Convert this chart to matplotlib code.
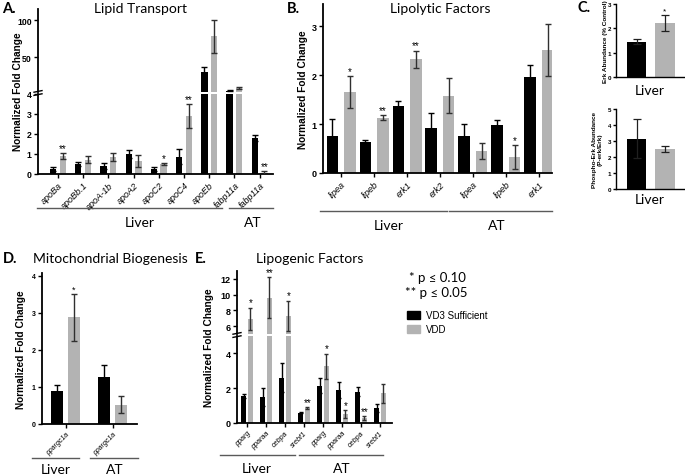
import matplotlib
matplotlib.use("Agg")
import matplotlib.pyplot as plt
from matplotlib.lines import Line2D
from matplotlib.patches import Rectangle
import numpy as np

plt.rcParams['font.family'] = ['Liberation Sans', 'DejaVu Sans']

# ---- data ----
# A. lipid transport
A_genes = ['apoBa', 'apoBb.1', 'apoA-1b', 'apoA2', 'apoC2', 'apoC4', 'apoEb', 'fabp11a', 'fabp11a']
A_suff = [0.25, 0.5, 0.38, 1.0, 0.25, 0.87, 30, 4.75, 1.8]
A_suff_err = [0.1, 0.12, 0.15, 0.18, 0.08, 0.38, 6.5, 0.3, 0.15]
A_vdd = [0.9, 0.72, 0.85, 0.65, 0.5, 2.9, 78, 8, 0.05]
A_vdd_err = [0.15, 0.18, 0.22, 0.3, 0.05, 0.6, 22, 1.3, 0.1]
A_sig = ['**', '', '', '', '*', '**', '', '', '**']

# B. lipolytic factors
B_genes = ['lipea', 'lipeb', 'erk1', 'erk2', 'lipea', 'lipeb', 'erk1']
B_suff = [0.75, 0.63, 1.36, 0.92, 0.75, 0.98, 1.95]
B_suff_err = [0.36, 0.05, 0.1, 0.3, 0.25, 0.1, 0.26]
B_vdd = [1.65, 1.13, 2.32, 1.58, 0.45, 0.33, 2.52]
B_vdd_err = [0.33, 0.05, 0.18, 0.35, 0.16, 0.24, 0.53]
B_sig = ['*', '**', '**', '', '', '*', '']

# C. erk western blots (liver)
C1_vals = [1.45, 2.22]
C1_err = [0.1, 0.34]
C1_sig = ['', '*']
C2_vals = [3.15, 2.5]
C2_err = [1.22, 0.18]
C2_sig = ['', '']

# D. mitochondrial biogenesis
D_genes = ['ppargc1a', 'ppargc1a']
D_suff = [0.88, 1.27]
D_suff_err = [0.18, 0.33]
D_vdd = [2.88, 0.52]
D_vdd_err = [0.63, 0.23]
D_sig = ['*', '']

# E. lipogenic factors
E_genes = ['pparg', 'pparaa', 'cebpa', 'srebf1', 'pparg', 'pparaa', 'cebpa', 'srebf1']
E_suff = [1.55, 1.5, 2.6, 0.6, 2.15, 1.9, 1.8, 0.85]
E_suff_err = [0.1, 0.5, 0.82, 0.05, 0.42, 0.45, 0.25, 0.23]
E_vdd = [6.9, 9.6, 7.3, 0.85, 3.25, 0.5, 0.3, 1.72]
E_vdd_err = [1.45, 2.6, 1.9, 0.05, 0.74, 0.22, 0.1, 0.55]
E_sig = ['*', '**', '*', '**', '*', '*', '**', '']

BLACK = '#000000'
GREY = '#b3b3b3'
LINE_GREY = '#5a5a5a'
TITLE_FONT = ['Lato', 'DejaVu Sans']

W, H = 685, 477
fig = plt.figure(figsize=(W / 100, H / 100), dpi=100)


def box(l, t, r, b):
    return [l / W, 1 - b / H, (r - l) / W, (b - t) / H]


def ftext(x, y, s, **kw):
    fig.text(x / W, 1 - y / H, s, **kw)


def fline(x0, x1, y, color=LINE_GREY, lw=1):
    fig.add_artist(Line2D([x0 / W, x1 / W], [1 - y / H, 1 - y / H],
                          transform=fig.transFigure, color=color, lw=lw))


def style(ax, fs, lw=1.3):
    for s in ['top', 'right']:
        ax.spines[s].set_visible(False)
    for s in ['left', 'bottom']:
        ax.spines[s].set_linewidth(lw)
    ax.tick_params(width=1, length=3, labelsize=fs, pad=1.5)
    plt.setp(ax.get_yticklabels(), fontweight='bold')


def draw_bars(ax, x, a, ae, b, be, w, off, cap, lo=None):
    a, ae, b, be = map(np.asarray, (a, ae, b, be))
    ax.bar(x - off, a, w, color=BLACK, zorder=2)
    ax.bar(x + off, b, w, color=GREY, zorder=2)
    # on the top half of a broken axis keep only the error bars that reach it
    ka = np.ones(len(x), bool) if lo is None else (a + ae > lo)
    kb = np.ones(len(x), bool) if lo is None else (b + be > lo)
    ax.errorbar((x - off)[ka], a[ka], yerr=ae[ka], fmt='none', ecolor='black',
                elinewidth=1, capsize=cap, capthick=1, zorder=3)
    ax.errorbar((x + off)[kb], b[kb], yerr=be[kb], fmt='none', ecolor='#303030',
                elinewidth=1, capsize=cap, capthick=1, zorder=3)


def put_stars(lower, upper, xs, tops, sig, brk, fs):
    for xi, t, s in zip(xs, tops, sig):
        if not s:
            continue
        ax = lower if (upper is None or t < brk) else upper
        ax.annotate(s, (xi, t), xytext=(0, 0.3), textcoords='offset points',
                    ha='center', va='bottom', fontsize=fs)


def break_marks(xp, yp):
    for dy in (-1.6, 1.6):
        fig.add_artist(Line2D([(xp - 4) / W, (xp + 4) / W],
                              [1 - (yp + dy + 0.8) / H, 1 - (yp + dy - 0.8) / H],
                              transform=fig.transFigure, color='black', lw=1))


def xlabels(ax, x, labels, fs):
    ax.set_xticks(x)
    ax.set_xticklabels(labels, rotation=45, ha='right', rotation_mode='anchor',
                       style='italic', fontsize=fs)


# ---------------- A ----------------
xA = np.arange(len(A_genes))
axA = fig.add_axes(box(38, 95, 273, 175))
axA2 = fig.add_axes(box(38, 10, 273, 93), sharex=axA)
draw_bars(axA, xA, A_suff, A_suff_err, A_vdd, A_vdd_err, 0.25, 0.19, 2)
draw_bars(axA2, xA, A_suff, A_suff_err, A_vdd, A_vdd_err, 0.25, 0.19, 2, lo=4)
axA.set_ylim(0, 4)
axA2.set_ylim(3, 115)
axA.set_xlim(-0.79, 8.53)
axA.set_yticks([0, 1, 2, 3, 4])
axA2.set_yticks([50, 100])
style(axA, 6.3)
style(axA2, 6.3)
axA2.spines['bottom'].set_visible(False)
axA2.tick_params(axis='x', bottom=False, labelbottom=False)
xlabels(axA, xA, A_genes, 6.5)
put_stars(axA, axA2, xA + 0.19, np.add(A_vdd, A_vdd_err), A_sig, 4, 7)
break_marks(38, 94)

# ---------------- B ----------------
xB = np.arange(len(B_genes))
axB = fig.add_axes(box(323, 5, 552, 174))
draw_bars(axB, xB, B_suff, B_suff_err, B_vdd, B_vdd_err, 0.34, 0.27, 2.5)
axB.set_xlim(-0.55, 6.4)
axB.set_ylim(0, 3.45)
axB.set_yticks([0, 1, 2, 3])
style(axB, 6.5)
xlabels(axB, xB, B_genes, 6.5)
put_stars(axB, None, xB + 0.27, np.add(B_vdd, B_vdd_err), B_sig, None, 7)

# ---------------- C ----------------
xC = np.arange(2)
for (t, b), vals, err, sig, lim, ticks in [((5, 78), C1_vals, C1_err, C1_sig, 3, [0, 1, 2, 3]),
                                            ((110, 190), C2_vals, C2_err, C2_sig, 5, [0, 1, 2, 3, 4, 5])]:
    ax = fig.add_axes(box(616, t, 685, b))
    ax.bar(xC, vals, 0.7, color=[BLACK, GREY], zorder=2)
    ax.errorbar(xC, vals, yerr=err, fmt='none', ecolor='#202020',
                elinewidth=0.9, capsize=3, capthick=0.9, zorder=3)
    ax.set_xlim(-0.73, 1.72)
    ax.set_ylim(0, lim)
    ax.set_yticks(ticks)
    ax.set_xticks([])
    style(ax, 4.5, lw=1)
    ax.tick_params(length=2)
    put_stars(ax, None, xC, np.add(vals, err), sig, None, 6)

ftext(606, 42, 'Erk Abundance (% Control)', rotation=90, ha='center', va='center',
      fontsize=4.6, fontweight='bold')
ftext(597, 150, 'Phospho-Erk Abundance\n(P-erk/Erk)', rotation=90, ha='center',
      va='center', fontsize=4.6, fontweight='bold', multialignment='center')
ftext(650, 91, 'Liver', ha='center', va='center', fontsize=10, family=TITLE_FONT)
ftext(650, 200, 'Liver', ha='center', va='center', fontsize=10, family=TITLE_FONT)

# ---------------- D ----------------
xD = np.arange(len(D_genes))
axD = fig.add_axes(box(42, 274, 137, 425))
draw_bars(axD, xD, D_suff, D_suff_err, D_vdd, D_vdd_err, 0.26, 0.18, 2.5)
axD.set_xlim(-0.5, 1.52)
axD.set_ylim(0, 4.08)
axD.set_yticks([0, 1, 2, 3, 4])
style(axD, 5)
xlabels(axD, xD, D_genes, 5)
put_stars(axD, None, xD + 0.18, np.add(D_vdd, D_vdd_err), D_sig, None, 6.5)

# ---------------- E ----------------
xE = np.arange(len(E_genes))
axE = fig.add_axes(box(237, 337, 392, 424))
axE2 = fig.add_axes(box(237, 272, 392, 335), sharex=axE)
draw_bars(axE, xE, E_suff, E_suff_err, E_vdd, E_vdd_err, 0.27, 0.18, 1.5)
draw_bars(axE2, xE, E_suff, E_suff_err, E_vdd, E_vdd_err, 0.27, 0.18, 1.5, lo=5)
axE.set_xlim(-0.53, 7.63)
axE.set_ylim(0, 5)
axE2.set_ylim(5, 13)
axE.set_yticks([0, 2, 4])
axE2.set_yticks([6, 8, 10, 12])
style(axE, 6.5)
style(axE2, 6.5)
axE2.spines['bottom'].set_visible(False)
axE2.tick_params(axis='x', bottom=False, labelbottom=False)
xlabels(axE, xE, E_genes, 5.2)
put_stars(axE, axE2, xE + 0.18, np.add(E_vdd, E_vdd_err), E_sig, 5, 7)
break_marks(237, 336)

# ---------------- titles, y labels, groups ----------------
ftext(140, 9, 'Lipid Transport', ha='center', va='center', fontsize=10, family=TITLE_FONT)
ftext(440, 9, 'Lipolytic Factors', ha='center', va='center', fontsize=10, family=TITLE_FONT)
ftext(110, 259, 'Mitochondrial Biogenesis', ha='center', va='center', fontsize=10, family=TITLE_FONT)
ftext(310, 259, 'Lipogenic Factors', ha='center', va='center', fontsize=10, family=TITLE_FONT)
for x, y, s in [(2, 9, 'A.'), (287, 9, 'B.'), (578, 8, 'C.'), (3, 259, 'D.'), (195, 259, 'E.')]:
    ftext(x, y, s, ha='left', va='center', fontsize=10.5, fontweight='bold', family=TITLE_FONT)

for x, y in [(18, 92), (303, 90), (21, 350), (209, 348)]:
    ftext(x, y, 'Normalized Fold Change', rotation=90, ha='center', va='center',
          fontsize=7.3, fontweight='bold')

groups = [(37, 222, 209, 140, 'Liver', 14), (229, 273, 209, 253, 'AT', 14),
          (320, 447, 212, 389, 'Liver', 14), (449, 552, 212, 497, 'AT', 14),
          (32, 79, 459, 56, 'Liver', 11), (90, 138, 459, 115, 'AT', 11),
          (220, 295, 456, 257, 'Liver', 13), (299, 383, 456, 342, 'AT', 13)]
for x0, x1, y, xl, s, dy in groups:
    fline(x0, x1, y)
    ftext(xl, y + dy, s, ha='center', va='center', fontsize=10, family=TITLE_FONT)

# ---------------- legend ----------------
ftext(409, 278, '* p \u2264 0.10', ha='left', va='center', fontsize=9.5, family=TITLE_FONT)
ftext(405, 293, '** p \u2264 0.05', ha='left', va='center', fontsize=9.5, family=TITLE_FONT)
for y, c, s in [(316, BLACK, 'VD3 Sufficient'), (330, GREY, 'VDD')]:
    fig.add_artist(Rectangle((407 / W, 1 - (y + 4) / H), 13 / W, 8 / H,
                             transform=fig.transFigure, color=c))
    ftext(426, y, s, ha='left', va='center', fontsize=7)

fig.savefig('out.png', dpi=100)
